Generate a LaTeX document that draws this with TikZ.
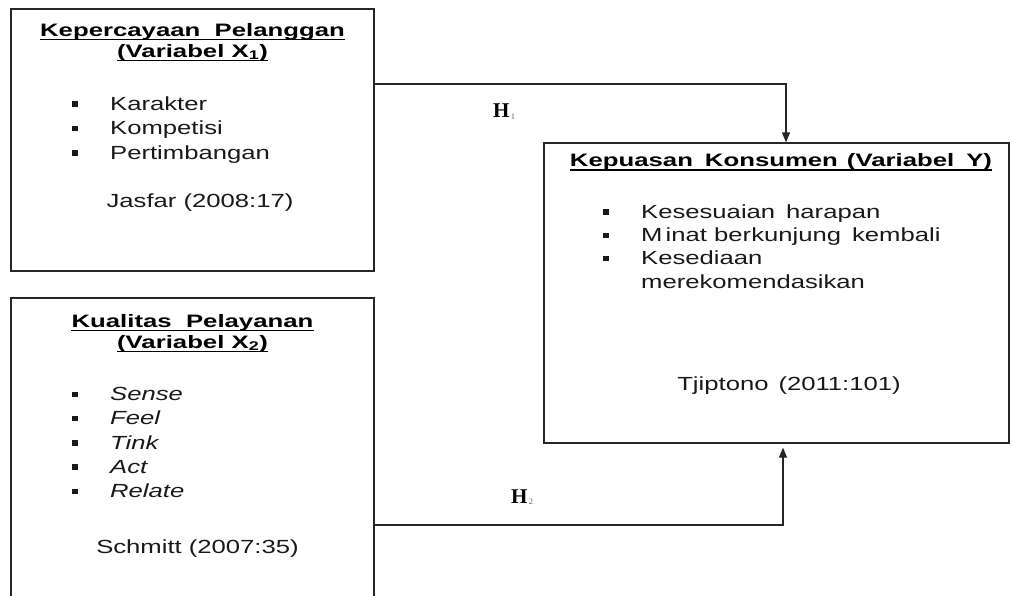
\documentclass[tikz,border=0pt]{standalone}
\usepackage{fontspec}
\setmainfont{Liberation Sans}
\newfontfamily\bodyf{Liberation Sans}[FakeStretch=1.35]
\newfontfamily\titlef{Liberation Sans}[FakeStretch=1.43]
\newfontfamily\hfont{Liberation Serif}
\usetikzlibrary{arrows.meta}
\newcommand\sqbul{\makebox[38pt][l]{\rule[3.5pt]{6pt}{5.5pt}}}
\newcommand\hsub[1]{\raisebox{-1.5pt}{\color{black!60}\fontsize{8.5}{8.5}\selectfont\mdseries\,#1}}
\tikzset{
  box/.style={draw=black!85, line width=1.3pt, inner sep=0pt},
  tx/.style={anchor=base west, inner sep=0pt, text=black!90, font=\bodyf\fontsize{19}{23}\selectfont},
  ctx/.style={anchor=base, inner sep=0pt, text=black!90, font=\bodyf\fontsize{19}{23}\selectfont},
  ttl/.style={anchor=base, inner sep=0pt, text=black, font=\titlef\bfseries\fontsize{18}{21}\selectfont},
  uln/.style={draw=black, line width=1.4pt},
  hl/.style={anchor=base west, inner sep=0pt, text=black, font=\hfont\bfseries\fontsize{21}{21}\selectfont},
  conn/.style={draw=black!85, line width=1.3pt},
  arr/.style={conn, -{Triangle[length=10pt,width=8pt]}}
}
\begin{document}
\begin{tikzpicture}[x=1pt,y=-1pt]
\clip (0,0) rectangle (1013,595);
% boxes
\node[box, minimum width=363pt, minimum height=262pt] (b1) at (192.5,140) {};
\node[box, minimum width=363pt, minimum height=314pt] (b2) at (192.5,455) {};
\node[box, minimum width=465pt, minimum height=300pt] (b3) at (776.5,293) {};
% box 1 text
\node[ttl] (t1a) at (192.5,36) {Kepercayaan\ \ Pelanggan};
\node[ttl] (t1b) at (192.5,57) {(Variabel X\textsubscript{1})};
\node[tx] (k1) at (72,110) {\sqbul Karakter};
\node[tx] (k2) at (72,134.5) {\sqbul Kompetisi};
\node[tx] (k3) at (72,159) {\sqbul Pertimbangan};
\node[ctx] (s1) at (200,207) {Jasfar (2008:17)};
% box 2 text
\node[ttl] (t2a) at (192.5,327) {Kualitas\ \ Pelayanan};
\node[ttl] (t2b) at (192.5,348) {(Variabel X\textsubscript{2})};
\node[tx] (q1) at (72,400.5) {\sqbul\textit{Sense}};
\node[tx] (q2) at (72,424.8) {\sqbul\textit{Feel}};
\node[tx] (q3) at (72,449.1) {\sqbul\textit{Tink}};
\node[tx] (q4) at (72,473.4) {\sqbul\textit{Act}};
\node[tx] (q5) at (72,497.7) {\sqbul\textit{Relate}};
\node[ctx] (s2) at (197.5,553) {Schmitt (2007:35)};
% box 3 text
\node[ttl] (t3) at (781,166.5) {Kepuasan\hspace{12pt}Konsumen\hspace{9pt}(Variabel\hspace{12pt}Y)};
\node[tx] (y1) at (603,218.3) {\sqbul Kesesuaian\hspace{11pt}harapan};
\node[tx] (y2) at (603,241.6) {\sqbul M\,inat berkunjung\hspace{11pt}kembali};
\node[tx] (y3) at (603,264.9) {\sqbul Kesediaan};
\node[tx] (y4) at (641,288.2) {merekomendasikan};
\node[ctx] (s3) at (789,390) {Tjiptono\hspace{10pt}(2011:101)};
% underlines
\foreach \n in {t1a,t1b,t2a,t2b,t3}
  \draw[uln] ([yshift=-3.3pt]\n.base west) -- ([yshift=-3.3pt]\n.base east);
% hypothesis labels
\node[hl] (h1) at (493,117.5) {H\hsub{1}};
\node[hl] (h2) at (511,503) {H\hsub{2}};
% connectors
\draw[arr] ([yshift=56pt]b1.east) -| ([xshift=9.5pt]b3.north);
\draw[arr, shorten >=4pt] ([yshift=-70pt]b2.east) -| ([xshift=6.5pt]b3.south);
\end{tikzpicture}
\end{document}
